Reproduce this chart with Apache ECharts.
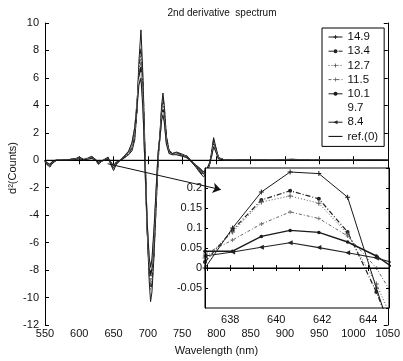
<!DOCTYPE html>
<html>
<head>
<meta charset="utf-8">
<script src="https://cdn.jsdelivr.net/npm/echarts@6/dist/echarts.min.js"></script>
<style>html,body{margin:0;padding:0;background:#fff}#c{width:403px;height:361px}</style>
</head>
<body>
<div id="c"></div>
<script>
// ---- data ----
const wavelengths = [550,553,557,561,566,575,585,594,600,606,612,618,623,628,633,638,642,646,650,654,660,666,672,677,681,684,687,690,693,696,699,702,704,706,709,712,715,718,720,722,724,727,731,736,742,750,757,763,770,776,781,786,790,793,796,799,803,810,825,850,880,910,940,970,1000,1030,1050];
const s149 = [-0.1,-0.3,-0.5,-0.2,0.0, 0.0,0.05,0.1,0.25,0.05, 0.15,0.28,0.1,-0.3,-0.05, 0.10,0.24,-0.3,-0.75,-0.3, 0.0,0.2,0.4,0.7,1.5, 3.6,7.2,9.5,6.0,0.5, -5.0,-8.8,-10.3,-9.6,-7.0, -3.5,0.0,2.2,3.9,4.9, 4.0,1.8,0.7,0.5,0.6, 0.45,0.3,-0.05,-0.5,-0.9, -1.2,-1.0,-0.3,0.6,1.65, 1.0,0.2,0.05,0.0,0.05, 0.0,0.08,0.0,0.05,0.0, 0.04,0.0];
const s134 = [-0.1,-0.3,-0.45,-0.2,0.0, 0.0,0.05,0.1,0.22,0.05, 0.15,0.25,0.1,-0.25,-0.05, 0.095,0.17,-0.25,-0.65,-0.25, 0.0,0.2,0.45,0.9,1.8, 3.4,6.5,8.2,5.4,0.3, -4.8,-8.2,-9.4,-9.0,-6.8, -3.3,0.0,2.0,3.6,4.5, 3.8,1.7,0.7,0.5,0.55, 0.4,0.3,-0.05,-0.45,-0.85, -1.1,-0.9,-0.3,0.5,1.5, 0.9,0.2,0.05,0.0,0.04, 0.0,0.06,0.0,0.04,0.0, 0.03,0.0];
const s127 = [-0.1,-0.25,-0.45,-0.15,0.0, 0.0,0.05,0.08,0.2,0.05, 0.12,0.22,0.08,-0.25,-0.05, 0.09,0.18,-0.25,-0.6,-0.25, 0.0,0.25,0.5,1.0,2.0, 3.8,6.6,7.8,5.0,0.0, -5.2,-8.4,-9.2,-8.6,-6.3, -3.0,0.2,2.1,3.5,4.2, 3.5,1.6,0.65,0.5,0.5, 0.4,0.25,-0.05,-0.45,-0.8, -1.05,-0.85,-0.3,0.45,1.4, 0.85,0.2,0.05,0.0,0.04, 0.0,0.05,0.0,0.04,0.0, 0.03,0.0];
const s115 = [-0.08,-0.25,-0.4,-0.15,0.0, 0.0,0.04,0.08,0.18,0.04, 0.12,0.2,0.08,-0.2,-0.05, 0.07,0.125,-0.2,-0.55,-0.2, 0.0,0.25,0.55,1.1,2.2, 3.9,6.3,7.2,4.6,-0.2, -5.0,-8.0,-8.8,-8.2,-6.0, -2.8,0.3,2.0,3.3,4.0, 3.3,1.5,0.6,0.45,0.5, 0.35,0.25,-0.05,-0.4,-0.75, -1.0,-0.8,-0.25,0.4,1.3, 0.8,0.18,0.04,0.0,0.03, 0.0,0.05,0.0,0.03,0.0, 0.03,0.0];
const s101 = [-0.08,-0.2,-0.35,-0.12,0.0, 0.0,0.04,0.07,0.15,0.04, 0.1,0.18,0.06,-0.18,-0.04, 0.042,0.094,-0.18,-0.5,-0.18, 0.0,0.3,0.6,1.2,2.3, 4.0,6.0,6.8,4.2,-0.4, -4.8,-7.6,-8.4,-7.8,-5.6, -2.6,0.4,1.9,3.1,3.7, 3.1,1.4,0.6,0.45,0.45, 0.35,0.2,-0.05,-0.4,-0.7, -0.95,-0.75,-0.25,0.35,1.2, 0.75,0.15,0.04,0.0,0.03, 0.0,0.04,0.0,0.03,0.0, 0.02,0.0];
const s97 = [-0.07,-0.2,-0.32,-0.1,0.0, 0.0,0.03,0.06,0.14,0.03, 0.09,0.16,0.05,-0.16,-0.04, 0.04,0.08,-0.16,-0.45,-0.16, 0.0,0.3,0.6,1.2,2.3, 3.9,5.8,6.4,3.9,-0.5, -4.6,-7.3,-8.0,-7.5,-5.3, -2.4,0.4,1.8,3.0,3.5, 2.9,1.3,0.55,0.4,0.45, 0.3,0.2,-0.05,-0.35,-0.65, -0.9,-0.7,-0.2,0.3,1.1, 0.7,0.15,0.03,0.0,0.02, 0.0,0.04,0.0,0.03,0.0, 0.02,0.0];
const s84 = [-0.06,-0.18,-0.3,-0.1,0.0, 0.0,0.03,0.05,0.12,0.03, 0.08,0.14,0.04,-0.14,-0.03, 0.04,0.053,-0.14,-0.4,-0.14, 0.0,0.3,0.65,1.3,2.4, 3.8,5.5,6.0,3.6,-0.6, -4.5,-7.1,-7.8,-7.2,-5.0, -2.2,0.5,1.8,2.9,3.3, 2.8,1.2,0.5,0.4,0.4, 0.3,0.2,-0.05,-0.35,-0.6, -0.85,-0.65,-0.2,0.3,1.0, 0.65,0.12,0.03,0.0,0.02, 0.0,0.03,0.0,0.02,0.0, 0.02,0.0];
const refRange = [550, 1050];

const insetX = [636.9, 638.1, 639.35, 640.6, 641.85, 643.1, 644.35, 645.6];
const i149 = [0.0, 0.10, 0.19, 0.24, 0.236, 0.177, -0.05, -0.27];
const i134 = [0.015, 0.095, 0.17, 0.193, 0.173, 0.09, -0.06, -0.24];
const i127 = [0.025, 0.09, 0.165, 0.18, 0.162, 0.085, -0.04, -0.2];
const i115 = [0.035, 0.07, 0.11, 0.14, 0.124, 0.08, 0.0, -0.12];
const i101 = [0.042, 0.042, 0.079, 0.094, 0.089, 0.065, 0.03, -0.02];
const i84 = [0.03, 0.04, 0.052, 0.063, 0.051, 0.038, 0.025, 0.005];
const insetRefRange = [636.9, 644.9];

const xTicksMain = [550, 1050, 50];
const yTicksMain = [-12, 10, 2];
const insetXLabels = [638, 640, 642, 644];
const insetXTicks = [637, 638, 639, 640, 641, 642, 643, 644];
const insetY = [-0.1, 0.25, 0.05];
const legendNames = ['14.9','13.4','12.7','11.5','10.1','9.7','8.4','ref.(0)'];
const arrowFrom = [641.3, -0.25];
const arrowTo = [806.5, -2.14];

// ---- styles ----
const FONT = "'Liberation Sans', Arial, sans-serif";
const plus = 'path://M4,0H6V4H10V6H6V10H4V6H0V4H4Z';
const styles = {
  '14.9': {color:'#1a1a1a', type:'solid', width:1, symbol:plus, size:5},
  '13.4': {color:'#222', type:[5,2,1,2], width:1.2, symbol:'circle', size:4},
  '12.7': {color:'#555', type:[1,2], width:1, symbol:plus, size:5},
  '11.5': {color:'#666', type:[3,2,1,2], width:1, symbol:plus, size:4},
  '10.1': {color:'#1a1a1a', type:'solid', width:1.4, symbol:'circle', size:3.5},
  '9.7':  {color:'#dcdcdc', type:'solid', width:1, symbol:'none', size:0},
  '8.4':  {color:'#222', type:'solid', width:1.1, symbol:'triangle', size:5}
};
function zip(xs, ys){ return xs.map((x,i)=>[x, ys[i]]); }

const mainSets = [['14.9',s149],['13.4',s134],['12.7',s127],['11.5',s115],['10.1',s101],['9.7',s97],['8.4',s84]];
const insetSets = [['14.9',i149],['13.4',i134],['12.7',i127],['11.5',i115],['10.1',i101],['8.4',i84]];

const series = [];
mainSets.forEach(([n, ys]) => {
  const st = styles[n];
  series.push({
    name:n, type:'line', xAxisIndex:0, yAxisIndex:0, data: zip(wavelengths, ys),
    symbol: st.symbol, symbolSize: st.size, symbolRotate: n==='8.4'?90:0, showSymbol:false,
    itemStyle:{color:st.color}, lineStyle:{color:st.color, type:st.type, width:st.width},
    z:2, animation:false
  });
});
series.push({name:'ref.(0)', type:'line', xAxisIndex:0, yAxisIndex:0,
  data: refRange.map(x=>[x,0]), symbol:'circle', showSymbol:false, symbolSize:0,
  itemStyle:{color:'rgba(0,0,0,0)'}, lineStyle:{color:'#000', width:1}, z:2});

insetSets.forEach(([n, ys]) => {
  const st = styles[n];
  series.push({
    name:n, type:'line', xAxisIndex:2, yAxisIndex:2, data: zip(insetX, ys),
    symbol: st.symbol, symbolSize: st.size, symbolRotate: n==='8.4'?90:0, showSymbol:true,
    itemStyle:{color:st.color}, lineStyle:{color:st.color, type:st.type, width:st.width},
    z:6, clip:true
  });
});
series.push({name:'ref.(0)', type:'line', xAxisIndex:2, yAxisIndex:2,
  data: insetRefRange.map(x=>[x,0]), symbol:'none', itemStyle:{color:'rgba(0,0,0,0)'}, lineStyle:{color:'#000', width:1}, z:6});

// arrow annotation
series.push({name:'arrow', type:'line', xAxisIndex:0, yAxisIndex:0, data:[], z:20,
  markLine:{silent:true, animation:false, symbol:['none','arrow'], symbolSize:8,
    lineStyle:{color:'#111', width:1, type:'solid'}, label:{show:false},
    data:[[{coord:arrowFrom},{coord:arrowTo}]]}});

const axLine = {show:true, lineStyle:{color:'#000', width:1}};
const lbl = {color:'#111', fontSize:11, fontFamily:FONT, formatter:(v)=>String(+v.toFixed(4))};

const option = {
  animation:false,
  backgroundColor:'#fff',
  title:{text:'2nd derivative  spectrum', left:217, top:3, textAlign:'center',
    textStyle:{fontSize:10, fontWeight:'normal', color:'#111', fontFamily:FONT}},
  legend:{
    data: legendNames.map(n => n==='9.7' ? {name:n, icon:'none'} : n),
    orient:'vertical', left:322, top:28, itemWidth:14, itemHeight:5, itemGap:0.2,
    padding:[2,6,3,6], backgroundColor:'#fff', borderColor:'#000', borderWidth:1,
    lineStyle:{width:1},
    textStyle:{fontSize:11.5, color:'#111', fontFamily:FONT, lineHeight:14},
    selectedMode:false, z:30
  },
  grid:[
    {left:45, top:23, width:345, height:303, show:false},
    {left:205, top:168, width:184, height:140, show:true, backgroundColor:'#fff', borderColor:'#000', borderWidth:1, z:5}
  ],
  xAxis:[
    {gridIndex:0, type:'value', min:xTicksMain[0], max:xTicksMain[1], interval:xTicksMain[2], position:'bottom',
      axisLine:axLine, axisTick:{inside:true, length:4, lineStyle:{color:'#000'}},
      axisLabel:Object.assign({margin:3}, lbl), splitLine:{show:false},
      name:'Wavelength (nm)', nameLocation:'middle', nameGap:20,
      nameTextStyle:{fontSize:11, color:'#111', fontFamily:FONT}},
    {gridIndex:0, type:'value', min:xTicksMain[0], max:xTicksMain[1], interval:xTicksMain[2], position:'top',
      axisLine:axLine, axisTick:{inside:true, length:4, lineStyle:{color:'#000'}},
      axisLabel:{show:false}, splitLine:{show:false}},
    {gridIndex:1, type:'value', min:insetRefRange[0], max:insetRefRange[1], position:'bottom', z:7,
      axisLine:axLine, axisTick:{inside:true, length:3, customValues:insetXTicks, lineStyle:{color:'#000'}},
      axisLabel:Object.assign({margin:6, customValues:insetXLabels}, lbl), splitLine:{show:false}},
    {gridIndex:1, type:'value', min:insetRefRange[0], max:insetRefRange[1], position:'top', z:7,
      axisLine:axLine, axisTick:{inside:true, length:3, customValues:insetXTicks, lineStyle:{color:'#000'}},
      axisLabel:{show:false}, splitLine:{show:false}}
  ],
  yAxis:[
    {gridIndex:0, type:'value', min:yTicksMain[0], max:yTicksMain[1], interval:yTicksMain[2], position:'left',
      axisLine:axLine, axisTick:{inside:true, length:4, lineStyle:{color:'#000'}},
      axisLabel:Object.assign({margin:6}, lbl), splitLine:{show:false}},
    {gridIndex:0, type:'value', min:yTicksMain[0], max:yTicksMain[1], interval:yTicksMain[2], position:'right',
      axisLine:axLine, axisTick:{inside:true, length:4, lineStyle:{color:'#000'}},
      axisLabel:{show:false}, splitLine:{show:false}},
    {gridIndex:1, type:'value', min:insetY[0], max:insetY[1], interval:insetY[2], position:'left', z:7,
      axisLine:axLine, axisTick:{inside:true, length:3, lineStyle:{color:'#000'}},
      axisLabel:Object.assign({margin:3, showMinLabel:false, showMaxLabel:false}, lbl), splitLine:{show:false}},
    {gridIndex:1, type:'value', min:insetY[0], max:insetY[1], interval:insetY[2], position:'right', z:7,
      axisLine:axLine, axisTick:{inside:true, length:3, lineStyle:{color:'#000'}},
      axisLabel:{show:false}, splitLine:{show:false}}
  ],
  graphic:[
    {type:'text', x:13, y:168, rotation:Math.PI/2,
      style:{text:'d²(Counts)', fontSize:11, fill:'#111', fontFamily:FONT, textAlign:'center', textVerticalAlign:'middle'}}
  ],
  series: series
};
const chart = echarts.init(document.getElementById('c'), null, {renderer:'canvas'});
chart.setOption(option);
</script>
</body>
</html>
